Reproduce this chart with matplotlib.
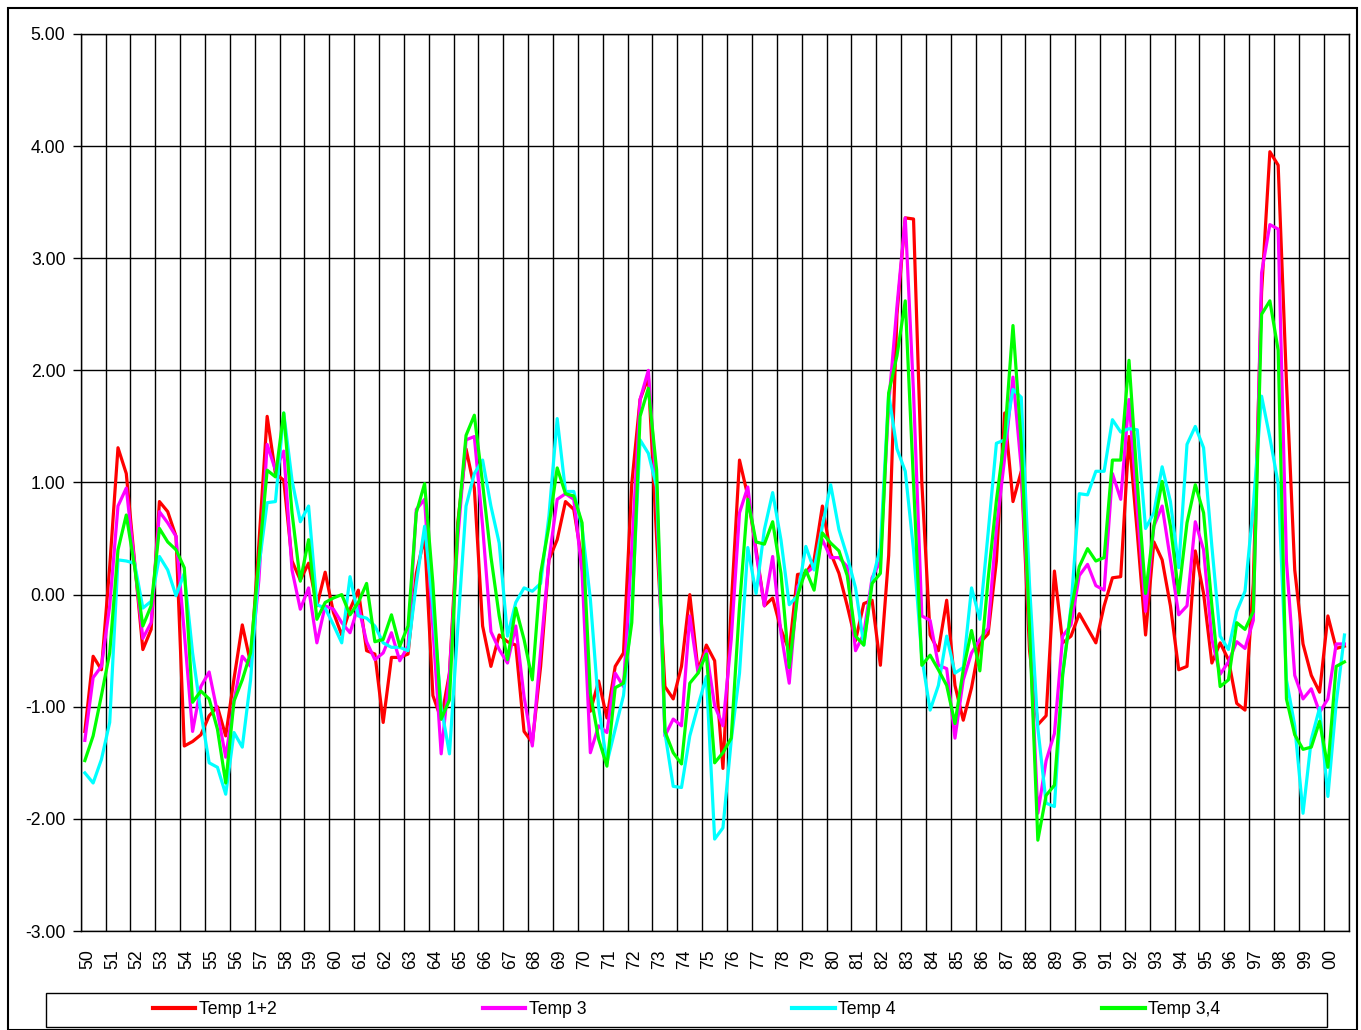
import matplotlib
matplotlib.use("Agg")
import matplotlib.pyplot as plt
from matplotlib.patches import Rectangle

plt.rcParams['font.family'] = ['Liberation Sans', 'DejaVu Sans']

# three values per year, 1950 - 2000
years = [f"{y % 100:02d}" for y in range(1950, 2001)]

temp_12 = [
    -1.22, -0.55, -0.67,  0.25, 1.31, 1.08,  0.30, -0.49, -0.31,  0.83, 0.74, 0.52,
    -1.35, -1.31, -1.25,  -1.08, -1.00, -1.26,  -0.75, -0.27, -0.61,  0.45, 1.59, 1.08,
    1.02, 0.30, 0.13,  0.28, -0.10, 0.20,  -0.16, -0.36, -0.13,  0.04, -0.50, -0.53,
    -1.14, -0.56, -0.56,  -0.53, 0.19, 0.52,  -0.90, -1.11, -0.70,  0.64, 1.30, 0.95,
    -0.28, -0.64, -0.36,  -0.42, -0.45, -1.22,  -1.32, -0.64, 0.31,  0.49, 0.83, 0.76,
    0.30, -1.04, -0.77,  -1.10, -0.64, -0.52,  0.99, 1.74, 1.94,  0.50, -0.82, -0.93,
    -0.64, 0.00, -0.68,  -0.45, -0.59, -1.55,  -0.10, 1.20, 0.88,  0.40, -0.10, -0.03,
    -0.31, -0.50, 0.18,  0.19, 0.31, 0.79,  0.37, 0.19, -0.10,  -0.41, -0.08, -0.05,
    -0.63, 0.35, 2.50,  3.36, 3.35, 1.00,  -0.36, -0.50, -0.05,  -0.81, -1.12, -0.83,
    -0.43, -0.35, 0.30,  1.62, 0.83, 1.10,  -0.50, -1.16, -1.08,  0.21, -0.43, -0.37,
    -0.17, -0.30, -0.43,  -0.10, 0.15, 0.16,  1.41, 0.55, -0.36,  0.47, 0.31, -0.10,
    -0.67, -0.64, 0.39,  0.01, -0.61, -0.43,  -0.58, -0.97, -1.03,  0.10, 2.70, 3.95,
    3.83, 1.90, 0.22,  -0.44, -0.72, -0.87,  -0.19, -0.48, -0.46,
]

temp_3 = [
    -1.30, -0.74, -0.64,  -0.10, 0.79, 0.95,  0.28, -0.39, -0.25,  0.74, 0.64, 0.52,
    -0.34, -1.22, -0.82,  -0.69, -1.05, -1.45,  -0.95, -0.55, -0.64,  0.13, 1.34, 1.11,
    1.28, 0.22, -0.13,  0.06, -0.43, -0.10,  -0.13, -0.25, -0.34,  -0.10, -0.42, -0.58,
    -0.52, -0.34, -0.59,  -0.46, 0.76, 0.85,  -0.30, -1.42, -0.70,  0.50, 1.38, 1.41,
    0.61, -0.33, -0.49,  -0.61, -0.28, -0.91,  -1.35, -0.50, 0.31,  0.85, 0.90, 0.85,
    0.20, -1.41, -1.17,  -1.23, -0.70, -0.82,  0.40, 1.74, 2.00,  0.90, -1.26, -1.11,
    -1.17, -0.19, -0.70,  -0.50, -0.99, -1.17,  -0.40, 0.73, 0.96,  0.37, -0.10, 0.34,
    -0.34, -0.79, 0.07,  0.19, 0.25, 0.49,  0.33, 0.33, 0.25,  -0.50, -0.35, 0.15,
    0.30, 1.70, 2.57,  3.36, 1.80, -0.19,  -0.23, -0.63, -0.66,  -1.28, -0.76, -0.52,
    -0.40, -0.30, 0.59,  1.22, 1.94, 1.13,  -0.30, -1.95, -1.48,  -1.24, -0.37, -0.27,
    0.17, 0.27, 0.08,  0.04, 1.08, 0.85,  1.74, 0.76, -0.15,  0.61, 0.79, 0.31,
    -0.18, -0.10, 0.65,  0.40, -0.40, -0.71,  -0.60, -0.42, -0.48,  -0.23, 2.87, 3.30,
    3.26, 0.30, -0.72,  -0.93, -0.84, -1.05,  -0.93, -0.44, -0.44,
]

temp_4 = [
    -1.59, -1.68, -1.47,  -1.14, 0.31, 0.30,  0.28, -0.12, -0.06,  0.34, 0.22, -0.01,
    0.19, -0.52, -1.05,  -1.50, -1.54, -1.78,  -1.23, -1.36, -0.76,  0.25, 0.82, 0.83,
    1.62, 1.02, 0.65,  0.79, -0.09, -0.12,  -0.27, -0.43, 0.16,  -0.19, -0.21, -0.28,
    -0.43, -0.47, -0.47,  -0.50, 0.10, 0.61,  -0.10, -1.00, -1.42,  -0.30, 0.79, 1.08,
    1.20, 0.79, 0.46,  -0.37, -0.07, 0.06,  0.03, 0.10, 0.70,  1.57, 0.92, 0.92,
    0.60, -0.04, -1.00,  -1.50, -1.20, -0.90,  -0.16, 1.38, 1.26,  0.96, -1.23, -1.71,
    -1.72, -1.26, -0.99,  -0.73, -2.18, -2.08,  -1.30, -0.70, 0.42,  0.01, 0.58, 0.91,
    0.49, -0.09, -0.01,  0.43, 0.22, 0.61,  0.98, 0.58, 0.34,  0.06, -0.45, 0.12,
    0.42, 1.79, 1.30,  1.10, 0.40, -0.56,  -1.03, -0.81, -0.37,  -0.70, -0.65, 0.06,
    -0.22, 0.55, 1.35,  1.38, 1.83, 1.76,  0.08, -1.19, -1.86,  -1.89, -0.71, -0.11,
    0.90, 0.89, 1.10,  1.10, 1.56, 1.45,  1.48, 1.47, 0.59,  0.73, 1.14, 0.83,
    0.24, 1.34, 1.50,  1.31, 0.43, -0.37,  -0.49, -0.15, 0.03,  0.79, 1.77, 1.40,
    0.99, -0.76, -1.17,  -1.95, -1.29, -1.01,  -1.80, -0.97, -0.36,
]

temp_34 = [
    -1.48, -1.26, -0.90,  -0.52, 0.40, 0.71,  0.25, -0.28, -0.10,  0.59, 0.47, 0.40,
    0.24, -0.96, -0.86,  -0.93, -1.20, -1.68,  -0.95, -0.76, -0.52,  0.31, 1.11, 1.05,
    1.62, 0.73, 0.12,  0.49, -0.22, -0.07,  -0.03, 0.00, -0.18,  -0.07, 0.10, -0.42,
    -0.40, -0.18, -0.46,  -0.28, 0.73, 0.99,  0.10, -1.11, -0.94,  0.60, 1.42, 1.60,
    0.99, 0.34, -0.19,  -0.58, -0.12, -0.40,  -0.76, 0.19, 0.61,  1.13, 0.90, 0.88,
    0.64, -0.88, -1.29,  -1.53, -0.83, -0.79,  -0.25, 1.59, 1.84,  1.11, -1.22, -1.41,
    -1.51, -0.79, -0.70,  -0.53, -1.50, -1.41,  -1.28, -0.10, 0.85,  0.47, 0.45, 0.65,
    0.19, -0.65, -0.01,  0.22, 0.04, 0.55,  0.46, 0.39, 0.17,  -0.37, -0.45, 0.10,
    0.19, 1.80, 2.13,  2.62, 1.00, -0.63,  -0.54, -0.67, -0.81,  -1.15, -0.67, -0.32,
    -0.68, 0.14, 0.84,  1.41, 2.40, 1.35,  -0.30, -2.19, -1.79,  -1.70, -0.71, -0.14,
    0.25, 0.41, 0.30,  0.33, 1.20, 1.20,  2.09, 1.00, 0.01,  0.61, 1.01, 0.61,
    0.01, 0.64, 0.98,  0.73, -0.10, -0.82,  -0.76, -0.25, -0.31,  -0.15, 2.50, 2.62,
    2.18, -0.93, -1.25,  -1.38, -1.36, -1.13,  -1.54, -0.64, -0.60,
]

series = [
    ("Temp 1+2", temp_12, "#FF0000"),
    ("Temp 3", temp_3, "#FF00FF"),
    ("Temp 4", temp_4, "#00FFFF"),
    ("Temp 3,4", temp_34, "#00FF00"),
]

W, H = 1361, 1030
fig = plt.figure(figsize=(W / 100, H / 100), dpi=100)
fig.patch.set_facecolor("white")

# plot area in pixels: x 80.7..1348.6, y 34..931
left, right, top, bottom = 80.7, 1348.6, 34, 931
ax = fig.add_axes([left / W, 1 - bottom / H, (right - left) / W, (bottom - top) / H])

x = list(range(len(temp_12)))
for name, vals, col in series:
    ax.plot(x, vals, color=col, lw=2.3, label=name, zorder=3)

ax.set_xlim(-0.5, len(temp_12) - 0.5)
ax.set_ylim(-3, 5)

# horizontal grid
ax.set_yticks(range(-3, 6))
ax.set_yticklabels([f"{v:.2f}" for v in range(-3, 6)])
ax.yaxis.grid(True, color="black", lw=1, zorder=1)
ax.tick_params(axis="y", length=6, width=1, pad=5, labelsize=12.7)

# vertical grid at year boundaries
for k in range(len(years) + 1):
    ax.axvline(3 * k - 0.5, color="black", lw=1, zorder=1)

ax.set_xticks([3 * k + 0.32 for k in range(len(years))])
ax.set_xticklabels(years, rotation=90, fontsize=12.7)
ax.tick_params(axis="x", length=0, pad=13)

for s in ax.spines.values():
    s.set_color("black")
    s.set_linewidth(1)

# legend box
fig.add_artist(Rectangle((46 / W, 1 - 1027 / H), (1327 - 46) / W, (1027 - 993) / H,
                         transform=fig.transFigure, fill=False, ec="black", lw=1))
handles, labels = ax.get_legend_handles_labels()
leg = fig.legend(handles, labels, loc="center", bbox_to_anchor=(686.5 / W, 1 - 1010 / H),
                 ncol=4, frameon=False, fontsize=12.7, handlelength=2.4,
                 handletextpad=0.2, columnspacing=11.7)
for l in leg.get_lines():
    l.set_linewidth(3)

# outer chart border
fig.add_artist(Rectangle((8 / W, 0), (1357 - 8) / W, 1 - 8 / H,
                         transform=fig.transFigure, fill=False, ec="black", lw=1.5))

fig.savefig("out.png", dpi=100)
